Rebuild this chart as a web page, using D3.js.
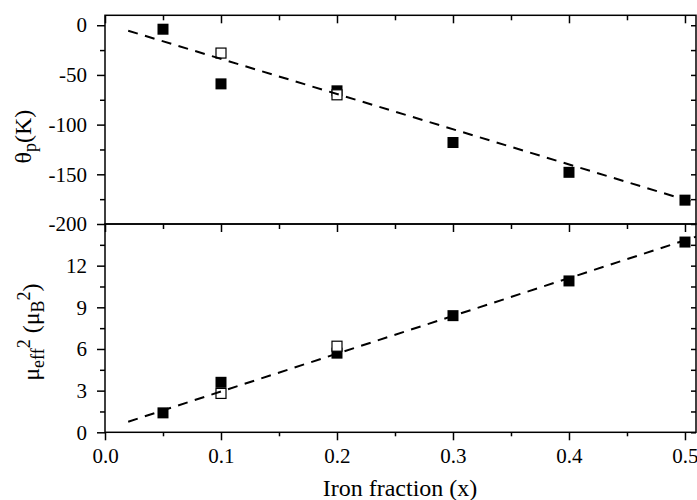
<!DOCTYPE html>
<html>
<head>
<meta charset="utf-8">
<script src="https://cdn.jsdelivr.net/npm/d3@7"></script>
<style>
  html, body { margin: 0; padding: 0; background: #fff; }
  svg { display: block; }
  .axis text { font-family: "Liberation Serif", "Times New Roman", serif; font-size: 21px; fill: #000; }
  .axis path { display: none; }
  .axis line { stroke: #000; stroke-width: 1.5; }
  .title { font-family: "Liberation Serif", "Times New Roman", serif; font-size: 24px; fill: #000; }
</style>
</head>
<body>
<svg id="chart" width="697" height="500"></svg>
<script>
// iron fraction of the samples
const xFilled = [0.05, 0.1, 0.2, 0.3, 0.4, 0.5];
const xOpen = [0.1, 0.2];

// paramagnetic Curie temperature theta_p (K)
const thetaFilled = [-4, -59, -66, -118, -148, -176];
const thetaOpen = [-28, -70];

// effective moment squared (muB^2)
const mu2Filled = [1.4, 3.6, 5.7, 8.4, 10.9, 13.7];
const mu2Open = [2.8, 6.2];

// linear fits (end points)
const fitX = [0.02, 0.51];
const thetaFit = [-5.5, -179];
const mu2Fit = [0.76, 14.1];

const xTicks = [0, 0.1, 0.2, 0.3, 0.4, 0.5];
const xMinor = [0.05, 0.15, 0.25, 0.35, 0.45];
const thetaTicks = [0, -50, -100, -150, -200];
const thetaMinor = [-25, -75, -125, -175];
const mu2Ticks = [0, 3, 6, 9, 12];
const mu2Minor = [1.5, 4.5, 7.5, 10.5, 13.5];

const svg = d3.select("#chart");
const left = 105, right = 696;
const topY = 15.3, midY = 224, botY = 432.3;

const x = d3.scaleLinear().domain([0, 0.5095]).range([left, right]);
const yTop = d3.scaleLinear().domain([-200, 10]).range([midY, topY]);
const yBot = d3.scaleLinear().domain([0, 15]).range([botY, midY]);

// plain hyphen for negatives, like the original
const intFmt = d => String(d);

// ---- axes ----
function axisG(gen, tx, ty) {
  return svg.append("g").attr("class", "axis")
    .attr("transform", `translate(${tx},${ty})`).call(gen);
}

// bottom x axis with labels (ticks outward)
axisG(d3.axisBottom(x).tickValues(xTicks).tickSize(8).tickPadding(8).tickFormat(d3.format(".1f")), 0, botY);
axisG(d3.axisBottom(x).tickValues(xMinor).tickSize(4).tickFormat(""), 0, botY);
// middle line ticks (pointing down)
axisG(d3.axisBottom(x).tickValues(xTicks).tickSize(8).tickFormat(""), 0, midY);
axisG(d3.axisBottom(x).tickValues(xMinor).tickSize(5).tickFormat(""), 0, midY);
// top border ticks (inward)
axisG(d3.axisBottom(x).tickValues(xTicks).tickSize(8).tickFormat(""), 0, topY);
axisG(d3.axisBottom(x).tickValues(xMinor).tickSize(5).tickFormat(""), 0, topY);

// left y axes (outward)
axisG(d3.axisLeft(yTop).tickValues(thetaTicks).tickSize(8).tickPadding(10).tickFormat(intFmt), left, 0);
axisG(d3.axisLeft(yTop).tickValues(thetaMinor).tickSize(5).tickFormat(""), left, 0);
axisG(d3.axisLeft(yBot).tickValues(mu2Ticks).tickSize(8).tickPadding(10).tickFormat(intFmt), left, 0);
axisG(d3.axisLeft(yBot).tickValues(mu2Minor).tickSize(5).tickFormat(""), left, 0);
// right side ticks (inward)
axisG(d3.axisLeft(yTop).tickValues(thetaTicks.concat(thetaMinor)).tickSize(5).tickFormat(""), right, 0);
axisG(d3.axisLeft(yBot).tickValues(mu2Ticks.concat(mu2Minor)).tickSize(5).tickFormat(""), right, 0);

// panel frames
svg.append("rect").attr("x", left).attr("y", topY).attr("width", right - left).attr("height", midY - topY)
  .attr("fill", "none").attr("stroke", "#000").attr("stroke-width", 1.5);
svg.append("rect").attr("x", left).attr("y", midY).attr("width", right - left).attr("height", botY - midY)
  .attr("fill", "none").attr("stroke", "#000").attr("stroke-width", 1.5);

svg.append("clipPath").attr("id", "clipTop").append("rect")
  .attr("x", left).attr("y", topY).attr("width", right - left).attr("height", midY - topY);
svg.append("clipPath").attr("id", "clipBot").append("rect")
  .attr("x", left).attr("y", midY).attr("width", right - left).attr("height", botY - midY);

// ---- data ----
function drawPanel(y, filled, open, fit, clip) {
  const g = svg.append("g");
  const fs = 11, os = 10;
  g.selectAll("rect.filled").data(xFilled.map((d, i) => [d, filled[i]])).join("rect")
    .attr("class", "filled")
    .attr("x", d => x(d[0]) - fs / 2).attr("y", d => y(d[1]) - fs / 2)
    .attr("width", fs).attr("height", fs).attr("fill", "#000");
  g.selectAll("rect.open").data(xOpen.map((d, i) => [d, open[i]])).join("rect")
    .attr("class", "open")
    .attr("x", d => x(d[0]) - os / 2).attr("y", d => y(d[1]) - os / 2)
    .attr("width", os).attr("height", os).attr("fill", "#fff")
    .attr("stroke", "#000").attr("stroke-width", 1.2);
  const line = d3.line().x(d => x(d[0])).y(d => y(d[1]));
  g.append("path").datum(fitX.map((d, i) => [d, fit[i]]))
    .attr("d", line).attr("clip-path", `url(#${clip})`)
    .attr("fill", "none").attr("stroke", "#000").attr("stroke-width", 2)
    .attr("stroke-dasharray", "10,7.5");
}
drawPanel(yTop, thetaFilled, thetaOpen, thetaFit, "clipTop");
drawPanel(yBot, mu2Filled, mu2Open, mu2Fit, "clipBot");

// ---- titles ----
svg.append("text").attr("class", "title")
  .attr("x", 400).attr("y", 496).attr("text-anchor", "middle")
  .text("Iron fraction (x)");

const t1 = svg.append("text").attr("class", "title")
  .attr("transform", `translate(31,${(topY + midY) / 2 + 17}) rotate(-90)`)
  .attr("text-anchor", "middle");
t1.append("tspan").text("θ");
t1.append("tspan").attr("dy", 5).attr("font-size", 18).text("p");
t1.append("tspan").attr("dy", -5).text("(K)");

const t2 = svg.append("text").attr("class", "title")
  .attr("transform", `translate(39,${(midY + botY) / 2 + 4}) rotate(-90)`)
  .attr("text-anchor", "middle");
t2.append("tspan").text("μ");
t2.append("tspan").attr("dy", 5).attr("font-size", 18).text("eff");
t2.append("tspan").attr("dy", -14).attr("font-size", 18).text("2");
t2.append("tspan").attr("dy", 9).text(" (μ");
t2.append("tspan").attr("dy", 5).attr("font-size", 18).text("B");
t2.append("tspan").attr("dy", -14).attr("font-size", 18).text("2");
t2.append("tspan").attr("dy", 9).text(")");
</script>
</body>
</html>
